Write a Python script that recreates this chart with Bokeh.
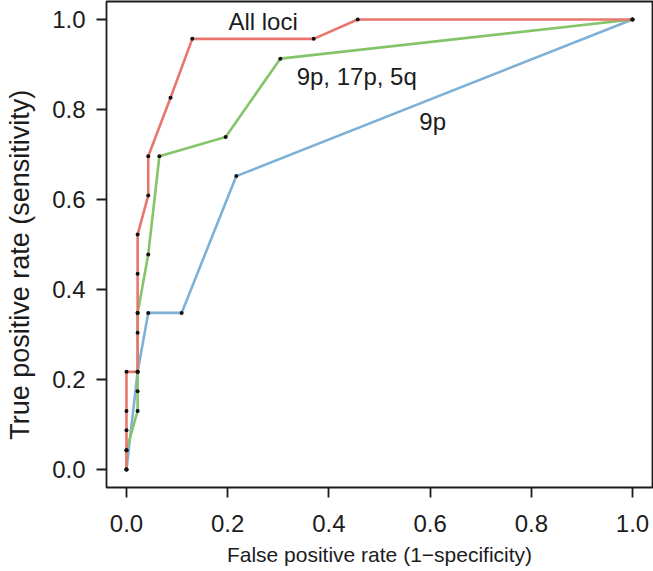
from bokeh.plotting import figure
from bokeh.models import ColumnDataSource, FixedTicker, Range1d
from bokeh.core.properties import value
from bokeh.embed import file_html
from bokeh.resources import INLINE

# ROC curves
fpr_all = [0.0, 0.0, 0.0, 0.0, 0.0, 0.022, 0.022, 0.022, 0.022, 0.022,
           0.043, 0.043, 0.087, 0.13, 0.37, 0.457, 1.0]
tpr_all = [0.0, 0.043, 0.087, 0.13, 0.217, 0.217, 0.304, 0.348, 0.435, 0.522,
           0.609, 0.696, 0.826, 0.957, 0.957, 1.0, 1.0]

fpr_three = [0.0, 0.0, 0.022, 0.022, 0.022, 0.022, 0.043, 0.065, 0.196, 0.304, 1.0]
tpr_three = [0.0, 0.043, 0.13, 0.174, 0.217, 0.348, 0.478, 0.696, 0.739, 0.913, 1.0]

fpr_9p = [0.0, 0.022, 0.043, 0.109, 0.217, 1.0]
tpr_9p = [0.0, 0.217, 0.348, 0.348, 0.652, 1.0]

label_text = ["All loci", "9p, 17p, 5q", "9p"]
label_x = [0.27, 0.455, 0.605]
label_y = [0.996, 0.873, 0.773]

ticks = [0.0, 0.2, 0.4, 0.6, 0.8, 1.0]
tick_labels = {0.0: "0.0", 0.2: "0.2", 0.4: "0.4", 0.6: "0.6", 0.8: "0.8", 1.0: "1.0"}

x_title = "False positive rate (1\u2212specificity)"
y_title = "True positive rate (sensitivity)"

FONT = "Liberation Sans"
INK = "#1c1c1c"

p = figure(width=653, height=571, output_backend="svg", toolbar_location=None,
           x_range=Range1d(-0.0395, 1.0395), y_range=Range1d(-0.04, 1.04),
           min_border_left=106, min_border_right=1, min_border_top=1,
           min_border_bottom=84)
p.background_fill_color = "white"
p.border_fill_color = "white"
p.outline_line_color = INK
p.outline_line_width = 1.8
p.xgrid.visible = False
p.ygrid.visible = False

series = [
    (fpr_9p, tpr_9p, "#7FB1D6"),
    (fpr_three, tpr_three, "#86C46A"),
    (fpr_all, tpr_all, "#E8766D"),
]
for xs, ys, col in series:
    src = ColumnDataSource(dict(x=xs, y=ys))
    p.line("x", "y", source=src, line_color=col, line_width=2.6)
for xs, ys, col in series:
    src = ColumnDataSource(dict(x=xs, y=ys))
    p.scatter("x", "y", source=src, size=4, fill_color="#111111",
              line_color=None)

lab = ColumnDataSource(dict(x=label_x, y=label_y, t=label_text))
p.text("x", "y", text="t", source=lab, text_font=value(FONT),
       text_font_size=value("24px"), text_color=INK,
       text_align="center", text_baseline="middle")

for ax in (p.xaxis[0], p.yaxis[0]):
    ax.ticker = FixedTicker(ticks=ticks)
    ax.major_label_overrides = tick_labels
    ax.minor_tick_line_color = None
    ax.major_tick_in = 0
    ax.major_tick_out = 10
    ax.major_tick_line_color = INK
    ax.major_tick_line_width = 1.8
    ax.axis_line_color = None
    ax.major_label_text_font = FONT
    ax.major_label_text_font_size = "24px"
    ax.major_label_text_color = INK
    ax.axis_label_text_font = FONT
    ax.axis_label_text_font_style = "normal"
    ax.axis_label_text_color = INK

p.xaxis.axis_label = x_title
p.xaxis.axis_label_text_font_size = "21px"
p.xaxis.major_label_standoff = 17
p.xaxis.axis_label_standoff = 8

# trailing en-spaces nudge the centred title toward the bottom, as in the reference
p.yaxis.axis_label = y_title + "\u2002\u2002\u2002"
p.yaxis.axis_label_text_font_size = "27px"
p.yaxis.major_label_standoff = 11
p.yaxis.major_label_orientation = "horizontal"
p.yaxis.axis_label_standoff = 14

open("out.html", "w").write(file_html(p, INLINE))
